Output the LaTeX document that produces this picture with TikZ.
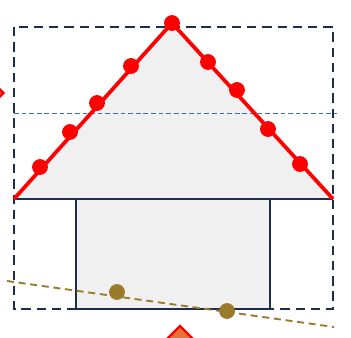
\documentclass[tikz,border=0pt]{standalone}
\usepackage{tikz}
\usetikzlibrary{shapes.geometric}

\definecolor{navy}{HTML}{1F2D4D}
\definecolor{lightfill}{HTML}{F0F0F0}
\definecolor{guideblue}{HTML}{3F6BC8}
\definecolor{olive}{HTML}{9A7B2B}
\definecolor{markorange}{HTML}{E8733A}

\begin{document}
\begin{tikzpicture}[
  x=0.03cm, y=-0.03cm,
  frame/.style={draw=navy, line width=2.5pt, dash pattern=on 8pt off 5pt},
  body/.style={draw=navy, line width=2pt, fill=lightfill},
  edge/.style={draw=red, line width=3.2pt},
  reddot/.style={circle, fill=red, inner sep=0pt, minimum size=13.5pt},
  olivedot/.style={circle, fill=olive, inner sep=0pt, minimum size=13.5pt},
  guide/.style={draw=guideblue, line width=0.8pt, dash pattern=on 4pt off 2.5pt},
  trend/.style={draw=olive, line width=1.6pt, dash pattern=on 6pt off 4pt},
  marker/.style={diamond, draw=red, line width=2pt, fill=markorange, inner sep=0pt, minimum size=28pt}
]
\useasboundingbox (0,0) rectangle (351,338);

% roof and body
\coordinate (apex) at (172,23);
\coordinate (baseL) at (14,199);
\coordinate (baseR) at (333,199);
\fill[lightfill] (baseL) -- (apex) -- (baseR) -- cycle;
\draw[body] (76,199) rectangle (270,309);
\draw[navy, line width=2pt] (baseL) -- (baseR);

% frame and guide
\draw[frame] (14,27) rectangle (333,309);
\draw[guide] (14,113) -- (337,113);

% roof edges
\draw[edge] (baseL) -- (apex) -- (baseR);
\foreach \px/\py [count=\i] in {40/167, 70/132, 97/103, 131/66, 172/23,
                                208/62, 237/90, 268/129, 300/164}
  \node[reddot] (d\i) at (\px,\py) {};

% trend line
\coordinate (tA) at (7,281);
\coordinate (tB) at (334,327);
\draw[trend] (tA) -- (tB);
\node[olivedot] (p1) at (117,292) {};
\node[olivedot] (p2) at (227,311) {};

% markers
\node[marker, minimum size=22pt] (mL) at (-9,93) {};
\node[marker] (mB) at (180,342) {};
\end{tikzpicture}
\end{document}
